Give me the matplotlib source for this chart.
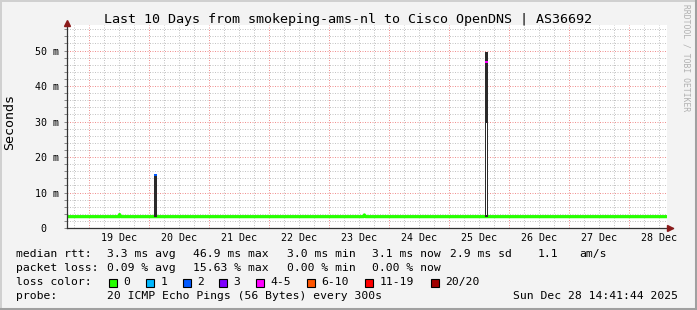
import matplotlib
matplotlib.use('Agg')
import numpy as np
import matplotlib.pyplot as plt
from matplotlib.patches import Rectangle
from matplotlib.lines import Line2D

# --- data (x in days of December 2025, y in ms) ---
median_day = [18.634, 19.50, 19.51, 19.53, 23.58, 23.59, 23.61, 28.633]
median_ms = [3.2, 3.2, 3.8, 3.2, 3.2, 3.7, 3.2, 3.2]

smoke_day = [20.108, 25.617]
smoke_lo = [3.0, 3.0]
smoke_dense_lo = [3.0, 29.5]
smoke_hi = [15.0, 49.6]

loss_day = [20.108, 25.617]
loss_ms = [15.0, 46.8]
loss_marker_col = ['#0059ff', '#ff00ff']

day_labels = ['19 Dec', '20 Dec', '21 Dec', '22 Dec', '23 Dec',
              '24 Dec', '25 Dec', '26 Dec', '27 Dec', '28 Dec']
day_label_pos = [19.5, 20.5, 21.5, 22.5, 23.5, 24.5, 25.5, 26.5, 27.5, 28.5]
y_ticks = [0, 10, 20, 30, 40, 50]
y_ticklabels = ['0  ', '10 m', '20 m', '30 m', '40 m', '50 m']

loss_names = ['0', '1', '2', '3', '4-5', '6-10', '11-19', '20/20']
loss_colors = ['#26ff00', '#00b8ff', '#0059ff', '#7e00ff',
               '#ff00ff', '#ff5500', '#ff0000', '#a00000']

W, H = 697, 310
MONO = 'DejaVu Sans Mono'
fig = plt.figure(figsize=(W / 100, H / 100), dpi=100, facecolor='#f3f3f3')


def fx(px):
    return px / W


def fy(py):
    return 1 - py / H


ax = fig.add_axes([fx(67), fy(228), 600 / W, (228 - 25) / H])
ax.set_facecolor('white')
ax.set_xlim(18.6333, 28.6333)
ax.set_ylim(0, 57.2)

# grid
ax.set_xticks(np.arange(19, 29))
ax.set_xticks(np.arange(18.75, 28.64, 0.25), minor=True)
ax.set_yticks(y_ticks)
ax.set_yticks(np.arange(2, 57, 2), minor=True)
ax.set_xticklabels([])
ax.set_yticklabels(y_ticklabels, fontfamily=MONO, fontsize=7.2)
ax.grid(which='minor', color='#c4c4c4', linestyle=(0, (1, 1.5)), linewidth=0.72)
ax.grid(which='major', color='#f09090', linestyle=(0, (1, 1.5)), linewidth=0.72)
ax.set_axisbelow(True)
ax.tick_params(axis='x', which='both', length=0)
ax.tick_params(axis='y', which='both', length=2, width=0.7, color='#888888', pad=4)

for s in ['top', 'right', 'left', 'bottom']:
    ax.spines[s].set_visible(False)

# median rtt line
ax.plot(median_day, median_ms, color='#26ff00', linewidth=2.3,
        solid_capstyle='butt', zorder=3)

# smoke
for d, lo, dlo, hi in zip(smoke_day, smoke_lo, smoke_dense_lo, smoke_hi):
    ax.bar(d, hi - lo, bottom=lo, width=0.05, color='#2b2b2b', zorder=4)
    if dlo > lo:
        ax.bar(d, dlo - lo - 0.6, bottom=lo + 0.6, width=0.017, color='white', zorder=5)

# loss colored median markers
for d, m, c in zip(loss_day, loss_ms, loss_marker_col):
    ax.bar(d, 0.7, bottom=m - 0.35, width=0.05, color=c, zorder=6)

# axes with arrows
ax.plot([0, 1.01], [0, 0], transform=ax.transAxes, color='#333333',
        linewidth=0.9, clip_on=False, zorder=7)
ax.plot([0, 0], [0, 1.0], transform=ax.transAxes, color='#333333',
        linewidth=0.9, clip_on=False, zorder=7)
ax.plot(1.005, 0, marker='>', markersize=4.5, color='#8b1a1a',
        transform=ax.transAxes, clip_on=False, zorder=8)
ax.plot(0, 1.008, marker='^', markersize=4.5, color='#8b1a1a',
        transform=ax.transAxes, clip_on=False, zorder=8)

for d, lab in zip(day_label_pos, day_labels):
    ax.text(d, -0.049, lab, transform=ax.get_xaxis_transform(), ha='center',
            va='center', fontfamily=MONO, fontsize=7.2)

# title and labels
fig.text(fx(347.5), fy(19), 'Last 10 Days from smokeping-ams-nl to Cisco OpenDNS | AS36692',
         ha='center', va='center', fontfamily=MONO, fontsize=9.6)
fig.text(fx(10), fy(122), 'Seconds', rotation=90, ha='center', va='center',
         fontfamily=MONO, fontsize=9.6)
fig.text(fx(686), fy(4), 'RRDTOOL / TOBI OETIKER', rotation=270, ha='center',
         va='top', fontfamily=MONO, fontsize=5.8, color='#b0b0b0')

# legend text
legend_rows = [
    (254.3, [(16, 'median rtt:'), (107, '3.3 ms avg'), (193, '46.9 ms max'),
             (287, '3.0 ms min'), (372, '3.1 ms now'), (450, '2.9 ms sd'),
             (538, '1.1'), (579, 'am/s')]),
    (268.3, [(16, 'packet loss:'), (107, '0.09 % avg'), (193, '15.63 % max'),
             (287, '0.00 % min'), (372, '0.00 % now')]),
    (282.3, [(16, 'loss color:')]),
    (296.0, [(16, 'probe:'), (107, '20 ICMP Echo Pings (56 Bytes) every 300s'),
             (513, 'Sun Dec 28 14:41:44 2025')]),
]
for y, items in legend_rows:
    for x, s in items:
        fig.text(fx(x), fy(y), s, ha='left', va='center', fontfamily=MONO, fontsize=8.2)

box_x = [109, 146, 183, 219, 256, 307, 365, 431]
for bx, name, col in zip(box_x, loss_names, loss_colors):
    fig.add_artist(Rectangle((fx(bx), fy(286.5)), 8 / W, 8 / H, transform=fig.transFigure,
                             facecolor=col, edgecolor='black', linewidth=0.8))
    fig.text(fx(bx + 14.5), fy(282.3), name, ha='left', va='center',
             fontfamily=MONO, fontsize=8.2)

# frame around image
fig.add_artist(Line2D([0, 1], [fy(0.5), fy(0.5)], transform=fig.transFigure, color='#d0d0d0', linewidth=1.4))
fig.add_artist(Line2D([fx(0.5), fx(0.5)], [0, 1], transform=fig.transFigure, color='#d0d0d0', linewidth=1.4))
fig.add_artist(Line2D([0, 1], [fy(308.5), fy(308.5)], transform=fig.transFigure, color='#a0a0a0', linewidth=2.2))
fig.add_artist(Line2D([fx(695.5), fx(695.5)], [0, 1], transform=fig.transFigure, color='#a0a0a0', linewidth=2.2))

fig.savefig('out.png', dpi=100, facecolor=fig.get_facecolor())
